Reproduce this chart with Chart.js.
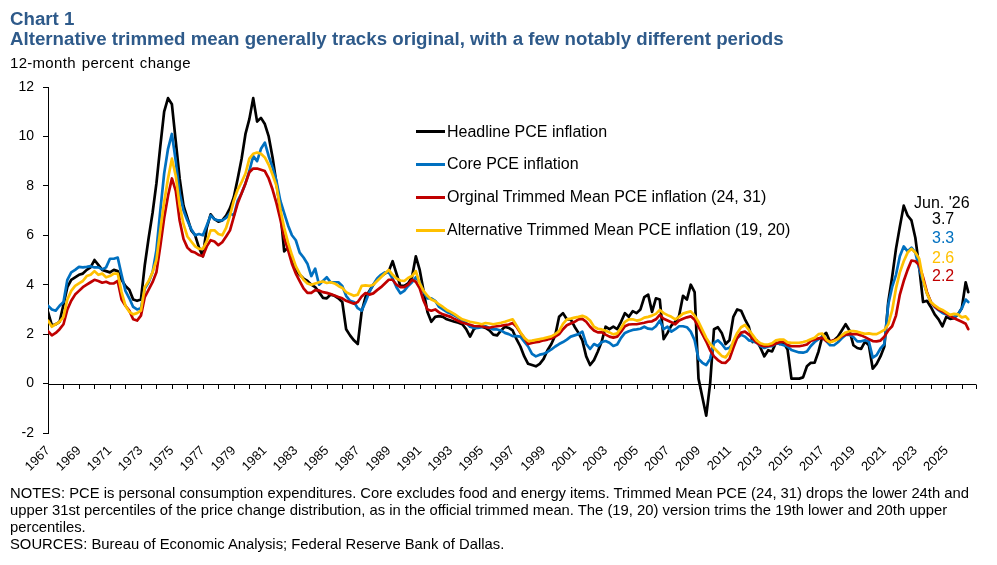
<!DOCTYPE html>
<html>
<head>
<meta charset="utf-8">
<script src="https://cdn.jsdelivr.net/npm/chart.js@4.4.1/dist/chart.umd.min.js"></script>
<style>
html,body{margin:0;padding:0;background:#fff;width:997px;height:565px;overflow:hidden;font-family:"Liberation Sans",Arial,sans-serif;}
#wrap{position:relative;width:997px;height:565px;}
#c{position:absolute;left:0;top:0;}
.t{position:absolute;white-space:nowrap;line-height:1;}
.leg{position:absolute;left:416px;height:0;}
.leg .ln{position:absolute;left:0;top:-1.5px;width:29px;height:3px;}
.leg .tx{position:absolute;left:31px;top:-8px;font-size:16px;line-height:1;white-space:nowrap;color:#000;}
.notes{position:absolute;left:10px;top:485px;font-size:14.8px;line-height:17px;color:#000;white-space:nowrap;}
</style>
</head>
<body>
<div id="wrap">
<canvas id="c" width="997" height="565"></canvas>
<div class="t" style="left:10px;top:10.3px;font-size:18.7px;font-weight:bold;color:#2E5A8A">Chart 1</div>
<div class="t" style="left:10px;top:29.9px;font-size:18.7px;font-weight:bold;color:#2E5A8A">Alternative trimmed mean generally tracks original, with a few notably different periods</div>
<div class="t" style="left:10px;top:55.4px;font-size:15px;letter-spacing:0.3px;word-spacing:1.5px;color:#000">12-month percent change</div>

<div class="leg" style="top:131.5px"><div class="ln" style="background:#000000"></div><div class="tx">Headline PCE inflation</div></div>
<div class="leg" style="top:164.3px"><div class="ln" style="background:#0070C0"></div><div class="tx">Core PCE inflation</div></div>
<div class="leg" style="top:197.3px"><div class="ln" style="background:#C00000"></div><div class="tx">Orginal Trimmed Mean PCE inflation (24, 31)</div></div>
<div class="leg" style="top:230.2px"><div class="ln" style="background:#FFC000"></div><div class="tx">Alternative Trimmed Mean PCE inflation (19, 20)</div></div>

<div class="t" style="left:914px;top:195px;font-size:16px;color:#000">Jun. '26</div>
<div class="t" style="left:932px;top:211px;font-size:16px;color:#000">3.7</div>
<div class="t" style="left:932px;top:229.6px;font-size:16px;color:#0070C0">3.3</div>
<div class="t" style="left:932px;top:249.6px;font-size:16px;color:#FFC000">2.6</div>
<div class="t" style="left:932px;top:268px;font-size:16px;color:#C00000">2.2</div>

<div class="notes">NOTES: PCE is personal consumption expenditures. Core excludes food and energy items. Trimmed Mean PCE (24, 31) drops the lower 24th and<br>upper 31st percentiles of the price change distribution, as in the official trimmed mean. The (19, 20) version trims the 19th lower and 20th upper<br>percentiles.<br>SOURCES: Bureau of Economic Analysis; Federal Reserve Bank of Dallas.</div>
</div>

<script>
// Quarterly observations (Jan, Apr, Jul, Oct) from Jan 1967, final point Jun 2026
const startYear = 1967;
const lastYear = 2026;

const headline = [
 2.9,2.35,2.4,2.5, 3.2,3.9,4.2,4.3, 4.4,4.45,4.6,4.7, 5.0,4.8,4.6,4.55, 4.5,4.6,4.55,4.2,
 3.95,3.8,3.4,3.35, 3.4,4.8,5.9,6.9, 8.1,9.6,11.0,11.55, 11.3,9.8,8.3,7.2, 6.7,6.2,6.0,5.5,
 5.15,6.3,6.85,6.65, 6.55,6.6,6.8,7.1, 7.55,8.3,9.1,10.1, 10.7,11.55,10.6,10.75, 10.5,10.0,9.15,8.1,
 7.0,5.35,5.5,4.95, 4.6,4.4,4.25,4.15, 4.0,3.9,3.7,3.47, 3.45,3.6,3.55,3.45, 3.3,2.2,1.95,1.75,
 1.6,2.9,3.5,3.75, 4.0,4.2,4.35,4.45, 4.55,4.95,4.45,3.95, 3.95,4.05,4.3,5.15, 4.6,3.75,2.9,2.5,
 2.7,2.73,2.7,2.6, 2.55,2.5,2.46,2.4, 2.2,1.9,2.2,2.3, 2.3,2.25,2.15,1.98, 1.95,2.15,2.3,2.25,
 2.15,1.8,1.5,1.1, 0.8,0.75,0.7,0.8, 1.0,1.35,1.6,1.95, 2.7,2.85,2.6,2.6, 2.3,2.05,1.75,1.1,
 0.75,0.95,1.3,1.7, 2.3,2.2,2.3,2.2, 2.5,2.85,2.7,2.93, 2.85,3.0,3.5,3.6, 2.9,3.45,3.4,1.8,
 2.05,2.35,2.5,2.75, 3.55,3.4,4.0,3.7, 0.2,-0.55,-1.3,0.0, 2.2,2.28,2.05,1.6, 1.75,2.7,3.0,2.95,
 2.6,2.3,1.68,1.75, 1.45,1.1,1.35,1.3, 1.65,1.6,1.65,1.38, 0.2,0.2,0.2,0.25, 0.7,0.84,0.85,1.3,
 1.92,2.05,1.68,1.75, 1.9,2.15,2.4,2.15, 1.55,1.44,1.4,1.7, 1.55,0.6,0.8,1.1, 1.5,3.3,4.3,5.45,
 6.35,7.2,6.8,6.6, 5.9,4.7,3.3,3.35, 3.1,2.8,2.6,2.32, 2.7,2.62,2.65,2.8, 3.05,4.1,3.7
];

const core = [
 3.15,3.0,2.95,3.15, 3.3,4.2,4.5,4.6, 4.72,4.7,4.72,4.75, 4.7,4.7,4.62,4.7, 5.05,5.05,5.1,4.4,
 3.75,3.45,3.1,3.0, 3.05,3.85,4.1,4.5, 5.4,7.0,8.5,9.5, 10.1,9.0,7.7,7.0, 6.6,6.25,6.0,6.05,
 6.0,6.4,6.8,6.65, 6.6,6.6,6.7,6.9, 6.8,7.4,7.7,8.1, 8.6,9.2,9.0,9.5, 9.75,9.2,8.75,8.2,
 7.4,6.9,6.4,6.0, 5.8,5.3,5.1,4.85, 4.35,4.65,4.0,4.15, 4.3,4.1,4.1,4.1, 3.95,3.55,3.35,3.3,
 3.05,2.95,3.3,3.7, 4.0,4.25,4.4,4.5, 4.5,4.25,3.9,3.65, 3.75,3.95,4.1,4.3, 4.1,3.7,3.45,3.45,
 3.35,3.1,3.0,2.9, 2.83,2.75,2.66,2.55, 2.45,2.3,2.25,2.25, 2.28,2.32,2.25,2.19, 2.19,2.15,2.05,2.0,
 1.92,1.92,1.9,1.7, 1.5,1.2,1.1,1.17, 1.2,1.28,1.38,1.5, 1.6,1.68,1.78,1.9, 1.95,2.0,2.1,1.6,
 1.4,1.6,1.52,1.68, 1.72,1.65,1.52,1.58, 1.85,2.05,2.12,2.17, 2.19,2.22,2.3,2.22, 2.2,2.32,2.55,2.2,
 2.3,2.1,2.2,2.32, 2.32,2.28,2.1,1.75, 1.0,0.84,0.75,1.0, 1.65,1.75,1.6,1.4, 1.45,1.63,1.85,1.97,
 1.9,1.75,1.71,1.65, 1.52,1.44,1.5,1.51, 1.62,1.6,1.55,1.5, 1.36,1.31,1.26,1.25, 1.3,1.52,1.68,1.8,
 1.9,1.72,1.55,1.55, 1.67,1.83,1.97,1.97, 1.88,1.71,1.71,1.75, 1.7,1.05,1.15,1.42, 1.6,3.2,3.9,4.4,
 5.15,5.55,5.35,5.5, 5.3,4.65,4.15,3.65, 3.3,3.1,2.97,2.86, 2.8,2.72,2.7,2.8, 3.05,3.4,3.3
];

const originalTrimmed = [
 2.12,1.95,2.05,2.2, 2.4,3.0,3.35,3.6, 3.75,3.9,4.0,4.1, 4.2,4.15,4.08,4.12, 4.05,4.05,4.15,3.4,
 3.15,2.95,2.6,2.55, 2.75,3.5,3.8,4.1, 4.5,5.55,6.7,7.6, 8.3,7.8,6.6,5.85, 5.5,5.35,5.3,5.2,
 5.15,5.55,5.8,5.75, 5.6,5.72,5.95,6.2, 6.75,7.3,7.7,8.1, 8.55,8.7,8.7,8.65, 8.6,8.3,7.85,7.3,
 6.65,5.9,5.4,4.85, 4.45,4.15,3.85,3.67, 3.67,3.78,3.77,3.7, 3.67,3.62,3.56,3.5, 3.45,3.35,3.29,3.23,
 3.3,3.52,3.66,3.6, 3.65,3.78,3.9,4.05, 4.2,4.2,4.0,3.9, 3.9,4.0,4.2,4.12, 3.85,3.35,3.0,2.95,
 3.0,2.88,2.8,2.75, 2.7,2.61,2.53,2.46, 2.42,2.38,2.33,2.32, 2.32,2.28,2.26,2.3, 2.32,2.34,2.37,2.39,
 2.45,2.3,2.05,1.85, 1.6,1.64,1.67,1.7, 1.75,1.78,1.83,1.9, 2.0,2.2,2.36,2.43, 2.5,2.6,2.62,2.5,
 2.3,2.15,2.07,2.08, 1.98,1.9,1.86,1.9, 2.1,2.32,2.39,2.4, 2.4,2.43,2.46,2.5, 2.52,2.6,2.78,2.62,
 2.55,2.48,2.4,2.55, 2.62,2.68,2.72,2.58, 2.3,2.0,1.7,1.35, 1.1,0.95,0.85,0.84, 1.0,1.45,1.85,2.06,
 2.1,1.98,1.82,1.66, 1.55,1.51,1.52,1.55, 1.62,1.68,1.7,1.56, 1.51,1.51,1.51,1.54, 1.58,1.72,1.78,1.83,
 1.85,1.72,1.71,1.75, 1.8,1.92,1.98,2.0, 2.0,2.0,1.95,1.88, 1.8,1.72,1.71,1.74, 1.9,2.15,2.32,2.75,
 3.6,4.15,4.6,4.98, 4.95,4.8,4.3,3.7, 3.3,3.12,3.0,2.93, 2.83,2.73,2.64,2.57, 2.5,2.42,2.2
];

const alternativeTrimmed = [
 2.55,2.3,2.4,2.5, 2.7,3.4,3.75,3.95, 4.05,4.15,4.35,4.4, 4.55,4.4,4.45,4.3, 4.35,4.45,4.45,3.7,
 3.15,2.9,2.8,2.85, 2.95,3.9,4.15,4.5, 5.0,6.2,7.35,8.3, 9.1,8.4,7.2,6.45, 5.95,5.75,5.55,5.45,
 5.45,5.75,6.2,6.2, 6.05,6.0,6.3,6.8, 7.4,7.85,8.15,8.5, 9.1,9.3,9.35,9.3, 9.15,8.85,8.45,8.0,
 7.05,6.3,5.7,5.2, 4.75,4.45,4.2,4.05, 4.0,4.05,4.1,4.13, 4.07,4.1,4.05,3.95, 3.87,3.7,3.62,3.55,
 3.6,3.95,3.97,3.95, 4.0,4.15,4.3,4.45, 4.6,4.4,4.25,4.17, 4.15,4.27,4.35,4.55, 4.05,3.75,3.55,3.4,
 3.33,3.2,3.1,2.98, 2.9,2.81,2.7,2.6, 2.55,2.5,2.47,2.44, 2.4,2.45,2.43,2.4, 2.43,2.46,2.5,2.55,
 2.6,2.35,2.08,1.85, 1.72,1.74,1.77,1.8, 1.83,1.87,1.91,2.0, 2.12,2.42,2.6,2.63, 2.67,2.7,2.74,2.68,
 2.55,2.3,2.22,2.19, 2.14,2.07,1.99,2.03, 2.25,2.5,2.6,2.6, 2.55,2.58,2.67,2.7, 2.75,2.82,2.98,2.85,
 2.77,2.7,2.6,2.7, 2.83,2.88,2.92,2.75, 2.5,2.17,1.85,1.6, 1.44,1.28,1.12,1.06, 1.28,1.72,2.05,2.28,
 2.37,2.17,1.96,1.75, 1.63,1.58,1.58,1.63, 1.75,1.78,1.78,1.67, 1.65,1.65,1.65,1.68, 1.72,1.79,1.85,2.0,
 2.02,1.78,1.67,1.72, 1.8,1.95,2.07,2.12, 2.12,2.1,2.05,2.01, 2.03,2.0,2.0,2.08, 2.17,2.4,2.95,3.85,
 4.5,4.95,5.3,5.45, 5.3,5.05,4.2,3.65, 3.3,3.16,3.05,2.98, 2.88,2.78,2.82,2.8, 2.68,2.72,2.6
];

// Observation dates as fractional years (month index / 12)
const dates = [];
for (let y = startYear; y < lastYear; y++) { for (const m of [0, 3, 6, 9]) dates.push(y + m / 12); }
dates.push(lastYear + 0 / 12, lastYear + 3 / 12, lastYear + 5 / 12); // Jan, Apr, Jun 2026

const xTickLabels = ['1967','1969','1971','1973','1975','1977','1979','1981','1983','1985','1987','1989','1991','1993','1995','1997','1999','2001','2003','2005','2007','2009','2011','2013','2015','2017','2019','2021','2023','2025'];
const yTickValues = [-2, 0, 2, 4, 6, 8, 10, 12];
const tickYears = [];
for (let y = startYear; y <= lastYear; y++) tickYears.push(y);
const axisEnd = lastYear + 11 / 12;

const toXY = arr => arr.map((v, i) => ({ x: dates[i], y: v }));

const zeroAxis = {
  id: 'zeroAxis',
  beforeDatasetsDraw(chart) {
    const { ctx, scales: { x, y } } = chart;
    const y0 = Math.round(y.getPixelForValue(0)) + 0.5;
    ctx.save();
    ctx.strokeStyle = '#000';
    ctx.lineWidth = 1;
    ctx.beginPath();
    ctx.moveTo(x.left, y0);
    ctx.lineTo(x.right, y0);
    const marks = tickYears.concat([axisEnd]);
    for (const t of marks) {
      const px = Math.round(x.getPixelForValue(t)) + 0.5;
      ctx.moveTo(px, y0);
      ctx.lineTo(px, y0 + 4.5);
    }
    ctx.stroke();
    ctx.restore();
  }
};

new Chart(document.getElementById('c'), {
  type: 'line',
  data: {
    datasets: [
      { label: 'Headline PCE inflation', data: toXY(headline), borderColor: '#000000', order: 4 },
      { label: 'Core PCE inflation', data: toXY(core), borderColor: '#0070C0', order: 3 },
      { label: 'Orginal Trimmed Mean PCE inflation (24, 31)', data: toXY(originalTrimmed), borderColor: '#C00000', order: 2 },
      { label: 'Alternative Trimmed Mean PCE inflation (19, 20)', data: toXY(alternativeTrimmed), borderColor: '#FFC000', order: 1 }
    ]
  },
  options: {
    responsive: false,
    animation: false,
    devicePixelRatio: 1,
    parsing: true,
    layout: { padding: { top: 87, right: 21, left: 0, bottom: 0 } },
    plugins: { legend: { display: false }, tooltip: { enabled: false } },
    elements: { point: { radius: 0 }, line: { borderWidth: 2.7, tension: 0, borderCapStyle: 'round', borderJoinStyle: 'round' } },
    scales: {
      x: {
        type: 'linear', min: startYear, max: axisEnd,
        afterBuildTicks: s => { s.ticks = tickYears.map(v => ({ value: v })); },
        afterFit: s => { s.height = 132; },
        ticks: {
          autoSkip: false, minRotation: 45, maxRotation: 45, padding: 10,
          color: '#000', font: { family: "'Liberation Sans', Arial, sans-serif", size: 13 },
          callback: v => xTickLabels.includes(String(v)) ? String(v) : ''
        },
        grid: { display: false, drawTicks: false },
        border: { display: false }
      },
      y: {
        min: -2, max: 12,
        afterBuildTicks: s => { s.ticks = yTickValues.map(v => ({ value: v })); },
        afterFit: s => { s.width = 48; },
        ticks: { color: '#000', padding: 9, font: { family: "'Liberation Sans', Arial, sans-serif", size: 14 } },
        grid: { drawOnChartArea: false, color: '#000', tickLength: 5, lineWidth: 1 },
        border: { display: true, color: '#000', width: 1 }
      }
    }
  },
  plugins: [zeroAxis]
});
</script>
</body>
</html>
